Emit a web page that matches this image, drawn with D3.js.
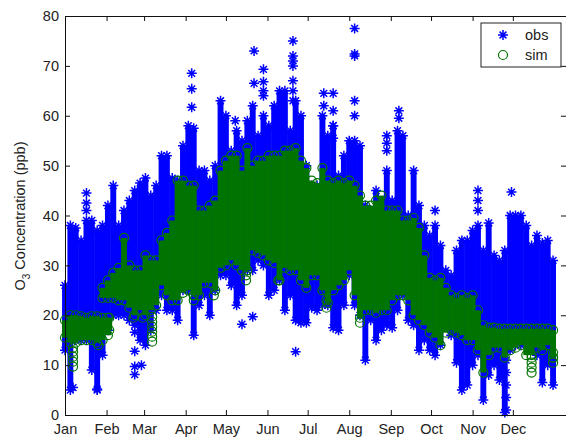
<!DOCTYPE html>
<html>
<head>
<meta charset="UTF-8">
<style>
  html, body { margin: 0; padding: 0; background: #fff; overflow: hidden; }
  svg { display: block; }
  svg text { font-family: "Liberation Sans", Arial, sans-serif; font-size: 14.5px; fill: #222; }
  .axis path, .axis line { stroke: #111; fill: none; }
  .star { fill: none; stroke: #0000ff; stroke-width: 1.5; }
  .ring { fill: none; stroke: #007400; stroke-width: 1.2; }
</style>
<script src="https://d3js.org/d3.v7.min.js"></script>
</head>
<body>
<svg></svg>
<script>
var monthNames = ['Jan', 'Feb', 'Mar', 'Apr', 'May', 'Jun', 'Jul', 'Aug', 'Sep', 'Oct', 'Nov', 'Dec'];
var monthStarts = [0, 31, 59, 90, 120, 151, 181, 212, 243, 273, 304, 334];
var yTicks = [0, 10, 20, 30, 40, 50, 60, 70, 80];

var obsDays = [0, 4, 8, 12, 16, 20, 24, 28, 32, 36, 40, 44, 48, 52, 56, 60, 64, 68, 72, 76, 80, 84, 88,
  92, 96, 100, 104, 108, 112, 116, 120, 124, 128, 132, 136, 140, 144, 148, 152, 156, 160, 164, 168, 172, 176, 180, 184,
  188, 192, 196, 200, 204, 208, 212, 216, 220, 224, 228, 232, 236, 240, 244, 248, 252, 256, 260, 264, 268, 272, 276,
  280, 284, 288, 292, 296, 300, 304, 308, 312, 316, 320, 324, 328, 332, 336, 340, 344, 348, 352, 356, 360, 364];
var obsLow = [13, 5, 15, 15, 15, 9, 5, 12, 17, 20, 20, 20, 19, 18, 15, 14, 17, 21, 24, 21, 21, 19, 25,
  25, 16, 22, 24, 20, 25, 28, 28, 26, 22, 24, 29, 29, 31, 30, 24, 25, 27, 21, 24, 19, 18.5, 18.5, 21.5,
  21, 22, 22, 17.5, 17, 22, 28, 22, 20, 11, 19, 15, 17, 18, 17.5, 21, 24, 19, 18, 13, 15, 13, 12,
  14, 18, 16, 10.5, 5, 6, 10, 12, 3, 8, 10, 7, 0.5, 13, 14, 14, 14, 14, 12, 6.5, 10, 6];
var obsHigh = [26, 38, 37.5, 35, 39, 39, 37, 38, 42, 46, 38, 41, 43, 45, 46.5, 47.5, 44, 46, 52, 52, 47.5, 47, 54,
  58, 57.5, 49, 49, 47, 50, 63, 60, 53, 57, 55, 59, 62, 56, 60, 58, 62, 65, 65, 57, 63, 60, 50, 46,
  46, 60, 56, 58, 48, 52, 55, 55, 54, 42, 41, 45, 40, 49, 43, 57, 56, 40, 49, 42, 38, 36, 38,
  34, 29, 28, 33, 35, 35, 37, 38, 33, 38.5, 32, 31, 33, 40, 40, 40, 38, 34, 36, 34.5, 35, 31];

// obs readings standing clear of the cloud
var obsExtraDays = [16, 16, 16, 94.5, 94.5, 94.5, 127, 141, 141, 148, 148, 148, 148, 170, 170, 170, 170, 170, 170, 170,
  193, 193, 200, 200, 200, 200, 216, 216, 216, 216, 216, 240, 240, 240, 249, 249, 276, 308, 308, 308, 333,
  172, 52, 52, 52, 52, 57, 132, 140, 6, 24, 329, 329, 329, 329, 329, 329];
var obsExtraVals = [44.5, 42.5, 41, 61.7, 65.4, 68.5, 59, 73, 66.5, 69.3, 66.8, 65, 64, 75, 72, 71, 70, 67, 65, 63,
  64.5, 62, 64.5, 61, 58, 55.5, 77.5, 72.4, 72, 63, 60, 56, 54.5, 53, 61, 59.5, 41, 45, 43, 41, 44.7,
  12.7, 16.6, 12.8, 9.7, 8.1, 10, 18.2, 19.7, 5.5, 5.2, 1, 3.5, 6, 8.5, 11, 13];

// sim: same reading, block edges at the end of January get their own entries
var simDays = [0, 4, 8, 12, 16, 20, 24, 28, 32, 33, 28, 32, 36, 40, 44, 48, 52, 56, 60, 64, 68, 72, 76, 80, 84, 88,
  92, 96, 100, 104, 108, 112, 116, 120, 124, 128, 132, 136, 140, 144, 148, 152, 156, 160, 164, 168, 172, 176, 180, 184,
  188, 192, 196, 200, 204, 208, 212, 216, 220, 224, 228, 232, 236, 240, 244, 248, 252, 256, 260, 264, 268, 272, 276,
  280, 284, 288, 292, 296, 300, 304, 308, 312, 316, 320, 324, 328, 332, 336, 340, 344, 348, 352, 356, 360, 364];
var simLow = [15.5, 14.5, 14.5, 15, 15, 15, 14.5, 15, 16, 17, 23.5, 23.5, 23.5, 23, 23, 21.5, 20, 21, 20, 21, 22, 26, 24, 23, 23, 24.5,
  25, 24, 24, 26.5, 26.5, 25, 29.5, 30, 31, 30, 29, 29, 33, 32.5, 32, 31, 30.5, 27, 29.5, 29, 29, 27, 25.5, 28,
  28, 25, 22.5, 25, 26, 27, 29, 24, 19.5, 21, 21, 20.5, 21, 21, 23, 24, 24, 23, 20, 19, 18, 16.5, 15.5,
  14, 16.5, 17, 16.5, 16, 15, 15, 13, 8.5, 12, 13.5, 13.5, 11.5, 13, 13.5, 14, 12, 12, 13.5, 13, 14, 11.5];
var simHigh = [19, 20, 20, 19.8, 19.5, 19.8, 19.8, 19.5, 19.5, 19.5, 25.5, 27, 28.5, 29.5, 35.5, 30, 29, 29, 32, 31, 31, 35, 36.5, 39, 47, 47,
  46, 46, 41, 41, 42, 43, 49, 51, 52, 52, 49, 53.5, 50, 51, 51, 52, 52, 52, 53, 53, 53.5, 51, 49.5, 47,
  46.5, 49.5, 47, 46.5, 47, 46.5, 47, 46, 44, 42, 42, 43, 44, 41, 41, 41, 39, 39, 39.5, 37.5, 32, 27.5, 27,
  27.5, 25.5, 24, 23.5, 24, 23.5, 24, 21, 18, 17.5, 17.5, 17.3, 17.3, 17.3, 17.3, 17.3, 17.3, 17.3, 17.3, 17.3, 17.3, 17];

// sim readings hanging under or above the solid part
var simExtraDays = [6, 6, 6, 6, 6, 25, 65, 65, 65, 65, 65, 65, 51, 58, 96, 96, 111, 135, 135, 159, 195, 195, 195, 220,
  348, 348, 348, 348, 364, 364, 364];
var simExtraVals = [9.7, 10.7, 11.7, 12.7, 13.5, 14, 14.7, 15.7, 16.7, 17.7, 18.7, 19.7, 19.5, 19.5, 23, 24, 24, 27, 28, 27, 21.5, 23, 25, 18.5,
  8.5, 9.5, 10.5, 11.5, 10.5, 11.5, 12.5];

var width = 566, height = 438;
var svg = d3.select('svg').attr('width', width).attr('height', height);

var x = d3.scaleLinear().domain([0, 374.4]).range([65, 567]);
var y = d3.scaleLinear().domain([0, 80]).range([415, 16]);

var starPath = 'M-5,0H5M0,-5V5M-3.4,-3.4L3.4,3.4M-3.4,3.4L3.4,-3.4';
var colW = 2.2; // half width of a column, in days

function drawBand(days, low, high, color) {
  svg.append('g').selectAll('rect')
    .data(days)
    .enter().append('rect')
      .attr('x', function(d) { return x(d - colW); })
      .attr('width', function(d) { return x(d + colW) - x(d - colW); })
      .attr('y', function(d, i) { return y(high[i]); })
      .attr('height', function(d, i) { return y(low[i]) - y(high[i]); })
      .attr('fill', color);
}

function drawStars(days, vals) {
  svg.append('g').selectAll('path')
    .data(days)
    .enter().append('path')
      .attr('class', 'star')
      .attr('d', starPath)
      .attr('transform', function(d, i) { return 'translate(' + x(d) + ',' + y(vals[i]) + ')'; });
}

function drawRings(days, vals) {
  svg.append('g').selectAll('circle')
    .data(days)
    .enter().append('circle')
      .attr('class', 'ring')
      .attr('r', 4.5)
      .attr('cx', function(d) { return x(d); })
      .attr('cy', function(d, i) { return y(vals[i]); });
}

drawBand(obsDays, obsLow, obsHigh, '#0000ff');
drawStars(obsDays, obsLow);
drawStars(obsDays, obsHigh);
drawStars(obsExtraDays, obsExtraVals);

drawBand(simDays, simLow, simHigh, '#007400');
drawRings(simDays, simLow);
drawRings(simDays, simHigh);
drawRings(simExtraDays, simExtraVals);

// axes, box style with ticks pointing inward
svg.append('g').attr('class', 'axis')
  .attr('transform', 'translate(0,415)')
  .call(d3.axisBottom(x).tickValues(monthStarts).tickSizeInner(-5).tickSizeOuter(0).tickPadding(9)
    .tickFormat(function(d, i) { return monthNames[i]; }));
svg.append('g').attr('class', 'axis')
  .attr('transform', 'translate(0,16)')
  .call(d3.axisTop(x).tickValues(monthStarts).tickSizeInner(-5).tickSizeOuter(0).tickFormat(''));
svg.append('g').attr('class', 'axis')
  .attr('transform', 'translate(65,0)')
  .call(d3.axisLeft(y).tickValues(yTicks).tickSizeInner(-5).tickSizeOuter(0).tickPadding(6));
svg.append('g').attr('class', 'axis')
  .attr('transform', 'translate(566,0)')
  .call(d3.axisRight(y).tickValues(yTicks).tickSizeInner(-5).tickSizeOuter(0).tickFormat(''));
svg.selectAll('.axis text').style('font-size', '14.5px').style('font-family', '"Liberation Sans", Arial, sans-serif').style('fill', '#222');

// y label with subscript
var yLabel = svg.append('text')
  .attr('transform', 'translate(25,216) rotate(-90)')
  .attr('text-anchor', 'middle');
yLabel.append('tspan').text('O');
yLabel.append('tspan').attr('dy', 5).style('font-size', '10px').text('3');
yLabel.append('tspan').attr('dy', -5).text(' Concentration (ppb)');

// legend
var legend = svg.append('g');
legend.append('rect')
  .attr('x', 481).attr('y', 23).attr('width', 80).attr('height', 44)
  .attr('fill', '#fff').attr('stroke', '#222');
legend.append('path').attr('class', 'star').attr('d', starPath)
  .attr('transform', 'translate(503,35)');
legend.append('circle').attr('class', 'ring').attr('r', 4.5)
  .attr('cx', 503).attr('cy', 55);
legend.append('text').attr('x', 525).attr('y', 40).text('obs');
legend.append('text').attr('x', 525).attr('y', 60).text('sim');
</script>
</body>
</html>
